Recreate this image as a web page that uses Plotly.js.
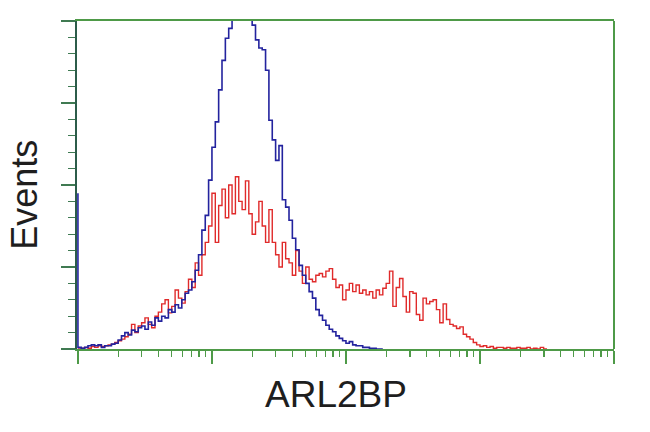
<!DOCTYPE html>
<html>
<head>
<meta charset="utf-8">
<script src="https://cdn.plot.ly/plotly-3.0.1.min.js"></script>
<style>html,body{margin:0;padding:0;background:#fff;}#chart{width:650px;height:432px;}</style>
</head>
<body>
<div id="chart"></div>
<script>
// Histogram channels: 40 bins per decade on a 4-decade log scale
const binsPerDecade = 40;
// Blue (control) histogram, counts per channel
const blueCounts = [190,2,1,2,4,5,4,5,2,4,
  4,6,7,11,16,20,17,23,21,26,
  28,24,33,29,38,34,40,38,48,45,
  54,50,60,68,72,82,96,115,145,163,
  206,246,277,316,352,379,391,413,430,440,
  445,438,425,395,377,367,365,340,279,255,
  230,248,182,173,157,135,121,102,90,80,
  70,62,48,41,35,29,24,21,16,13,
  10,7,9,5,4,4,2,2,1,1,
  0,0];
// Red (ARL2BP stained) histogram, counts per channel
const redCounts = [0,0,1,2,1,3,2,4,3,4,
  5,6,8,10,12,15,18,30,20,28,
  32,38,30,26,40,45,55,60,44,52,
  72,62,56,70,85,75,105,90,115,130,
  150,190,130,175,195,160,200,165,210,180,
  170,205,165,140,155,180,150,130,170,130,
  115,100,130,110,105,90,120,95,80,100,
  85,82,90,92,88,95,98,85,75,78,
  60,72,80,70,78,68,72,66,70,62,
  72,66,74,80,95,52,75,86,64,45,
  70,68,42,35,62,55,58,60,48,32,
  55,36,30,28,25,27,18,15,12,8,
  5,3,4,2,3,1,2,2,1,2,
  1,1,2,1,1,2,0,1,0,2,0];
const xTitle = "ARL2BP";
const yTitle = "Events";

const chanX = arr => arr.map((_, i) => Math.pow(10, i / binsPerDecade));

const green = '#4e9a48';
const traces = [
  {x: chanX(redCounts), y: redCounts, type: 'scatter', mode: 'lines',
   line: {color: '#e02a2a', width: 1.4, shape: 'vh'}, hoverinfo: 'skip'},
  {x: chanX(blueCounts), y: blueCounts, type: 'scatter', mode: 'lines',
   line: {color: '#23239e', width: 1.6, shape: 'vh'}, hoverinfo: 'skip'}
];

const layout = {
  width: 650, height: 432,
  margin: {l: 77, r: 36, t: 21, b: 83, pad: 0},
  paper_bgcolor: '#ffffff', plot_bgcolor: '#ffffff',
  showlegend: false,
  font: {family: 'Liberation Sans, Arial, sans-serif', color: '#1e1e1e'},
  xaxis: {
    type: 'log', range: [-0.007, 4], dtick: 1,
    showline: true, mirror: true, linecolor: green, linewidth: 2,
    ticks: 'outside', ticklen: 13, tickwidth: 1.5, tickcolor: green,
    showticklabels: false, showgrid: false, zeroline: false,
    minor: {ticks: 'outside', ticklen: 6, tickwidth: 1.2, tickcolor: green, dtick: 'D1', showgrid: false}
  },
  yaxis: {
    range: [0, 400], dtick: 100,
    showline: true, mirror: false, linecolor: '#2c5c4a', linewidth: 2,
    layer: 'below traces',
    ticks: 'outside', ticklen: 14, tickwidth: 1.5, tickcolor: '#3f7a52',
    showticklabels: false, showgrid: false, zeroline: false,
    minor: {ticks: 'outside', ticklen: 7, tickwidth: 1.2, tickcolor: '#3f7a52', dtick: 20, showgrid: false}
  },
  shapes: [
    {type: 'line', xref: 'paper', yref: 'paper', x0: 1, x1: 1, y0: 0, y1: 1,
     line: {color: green, width: 2}}
  ],
  annotations: [
    {text: xTitle, xref: 'paper', yref: 'paper', x: 0.482, y: -0.14,
     xanchor: 'center', yanchor: 'middle', showarrow: false,
     font: {size: 37, color: '#1e1e1e'}},
    {text: yTitle, xref: 'paper', yref: 'paper', x: -0.097, y: 0.47,
     xanchor: 'center', yanchor: 'middle', showarrow: false, textangle: -90,
     font: {size: 36, color: '#1e1e1e'}}
  ]
};

Plotly.newPlot('chart', traces, layout, {staticPlot: true, displayModeBar: false});
</script>
</body>
</html>
